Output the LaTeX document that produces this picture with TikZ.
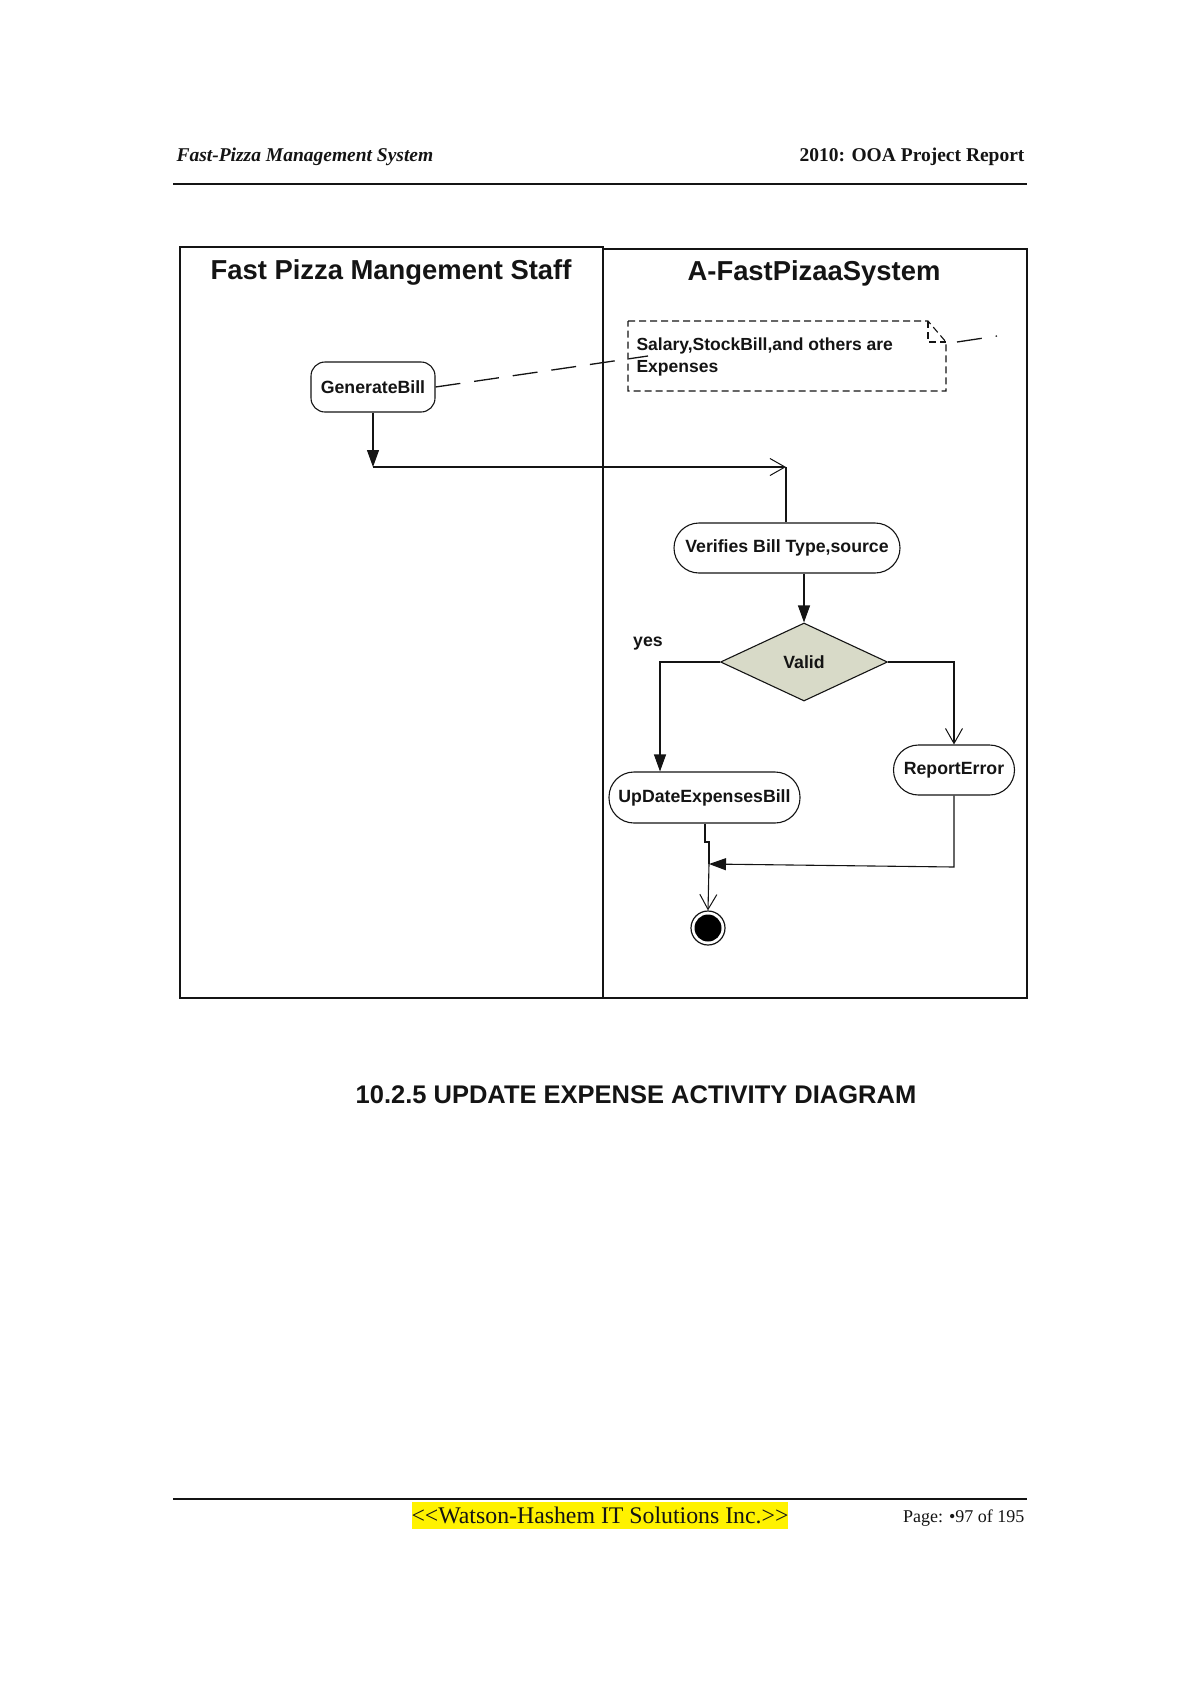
\documentclass[tikz,border=0pt]{standalone}
\usepackage{fontspec}
\setmainfont{Liberation Serif}
\newfontfamily\dsans{Liberation Sans}
\usetikzlibrary{arrows.meta,shapes.geometric}
\definecolor{validfill}{RGB}{216,218,200}
\definecolor{ink}{RGB}{20,20,20}
\begin{document}
\begin{tikzpicture}[x=1pt,y=-1pt,
  ln/.style={line width=1.1pt, draw=ink},
  act/.style={draw=ink, line width=1.1pt, rectangle, inner sep=0pt, text=ink,
    font=\dsans\bfseries\fontsize{17.7}{20}\selectfont},
  fillarrow/.style={-{Triangle[length=17pt,width=12pt]}},
  openarrow/.style={-{Straight Barb[length=15pt,width=17pt,line width=1pt]}},
  lanebox/.style={draw=ink, line width=1.2pt},
  lanetitle/.style={font=\dsans\bfseries\fontsize{27.4}{31}\selectfont, text=ink},
  notedash/.style={draw=ink, line width=1.1pt, dash pattern=on 7pt off 4pt},
  linkdash/.style={draw=ink, line width=1.3pt, dash pattern=on 25pt off 14pt},
  rule/.style={line width=2.5pt, draw=ink}
]
\useasboundingbox[fill=white] (0,0) rectangle (1200,1698);

% header
\node[anchor=base west, font=\bfseries\itshape\fontsize{19.5}{22}\selectfont, text=ink] (hl) at (173,161) {Fast-Pizza Management System};
\node[anchor=base east, font=\bfseries\fontsize{19.5}{22}\selectfont, text=ink] (hr) at (1028,161) {2010: OOA Project Report};
\coordinate (hl1) at (173,184);
\coordinate (hl2) at (1027,184);
\draw[rule] (hl1) -- (hl2);

% swimlanes
\draw[lanebox] (180,247) rectangle (603,998);
\draw[lanebox] (603,249) rectangle (1027,998);
\node[lanetitle] (t1) at (391,272) {Fast Pizza Mangement Staff};
\node[lanetitle] (t2) at (814,273) {A-FastPizaaSystem};

% note
\draw[notedash] (628,321) -- (928,321) -- (946,342) -- (946,391) -- (628,391) -- cycle;
\draw[notedash] (928,321) -- (928,342) -- (946,342);
\node[anchor=base west, align=left, text=ink,
  font=\dsans\bfseries\fontsize{17.5}{22}\selectfont] (note) at (633,372)
  {Salary,StockBill,and others are\\Expenses};
\coordinate (nend) at (648,356);
\coordinate (nfold) at (957,342);
\coordinate (nfree) at (997,336);

% activities
\node[act, rounded corners=14pt, minimum width=124pt, minimum height=50pt] (gb) at (373,387) {GenerateBill};
\node[act, rounded corners=25pt, minimum width=226pt, minimum height=50pt] (ver) at (787,548) {Verifies Bill Type,source};
\node[diamond, draw=ink, line width=1.1pt, fill=validfill, aspect=2.14, minimum width=167pt, minimum height=78pt, inner sep=0pt, text=ink,
  font=\dsans\bfseries\fontsize{17.7}{20}\selectfont] (val) at (804,662) {Valid};
\node[act, rounded corners=25pt, minimum width=191pt, minimum height=51pt] (upd) at (704.5,797.5) {UpDateExpensesBill};
\node[act, rounded corners=25pt, minimum width=121pt, minimum height=50pt] (rep) at (954,770) {ReportError};
\node[circle, draw=ink, line width=1.2pt, minimum size=34pt, inner sep=0pt] (fin) at (708,928) {};
\node[circle, fill=black, minimum size=27pt, inner sep=0pt] (fincore) at (fin) {};
\node[font=\dsans\bfseries\fontsize{17.7}{20}\selectfont, text=ink] (yes) at (648,644) {yes};

% connectors
\draw[linkdash] (gb.east) -- (nend);
\draw[linkdash] (nfold) -- (nfree);

\coordinate (j1) at (373,467);
\coordinate (j2) at (786,467);
\draw[ln, fillarrow] (gb.south) -- (j1);
\draw[ln, openarrow] (j1) -- (j2);
\draw[ln] (j2) -- (j2 |- ver.north);

\draw[ln, fillarrow] (val.north |- ver.south) -- (val.north);

\coordinate (ycorner) at (660,662);
\draw[ln, fillarrow] (val.west) -- (ycorner) -- (ycorner |- upd.north);
\draw[ln, openarrow] (val.east) -| (rep.north);

\coordinate (u1) at (705,842);
\coordinate (u2) at (709,842);
\coordinate (jn) at (709,864);
\coordinate (rcorner) at (954,867);
\draw[ln] (u1 |- upd.south) -- (u1) -- (u2) -- (jn);
\draw[ln, openarrow] (jn) -- (fin.north);
\draw[ln, fillarrow] (rep.south) -- (rcorner) -- (jn);

% caption
\node[font=\dsans\bfseries\fontsize{25.5}{30}\selectfont, text=ink] (cap) at (636,1095) {10.2.5 UPDATE EXPENSE ACTIVITY DIAGRAM};

% footer
\coordinate (fl1) at (173,1499);
\coordinate (fl2) at (1027,1499);
\draw[rule] (fl1) -- (fl2);
\fill[yellow] (412,1502) rectangle (788,1529);
\node[font=\fontsize{23.8}{26}\selectfont, text=ink] (ft) at (600,1515) {<\kern0pt<Watson-Hashem IT Solutions Inc.>\kern0pt>};
\node[anchor=base east, font=\fontsize{18}{21}\selectfont, text=ink] (pg) at (1028,1522) {Page: •97 of 195};
\end{tikzpicture}
\end{document}
